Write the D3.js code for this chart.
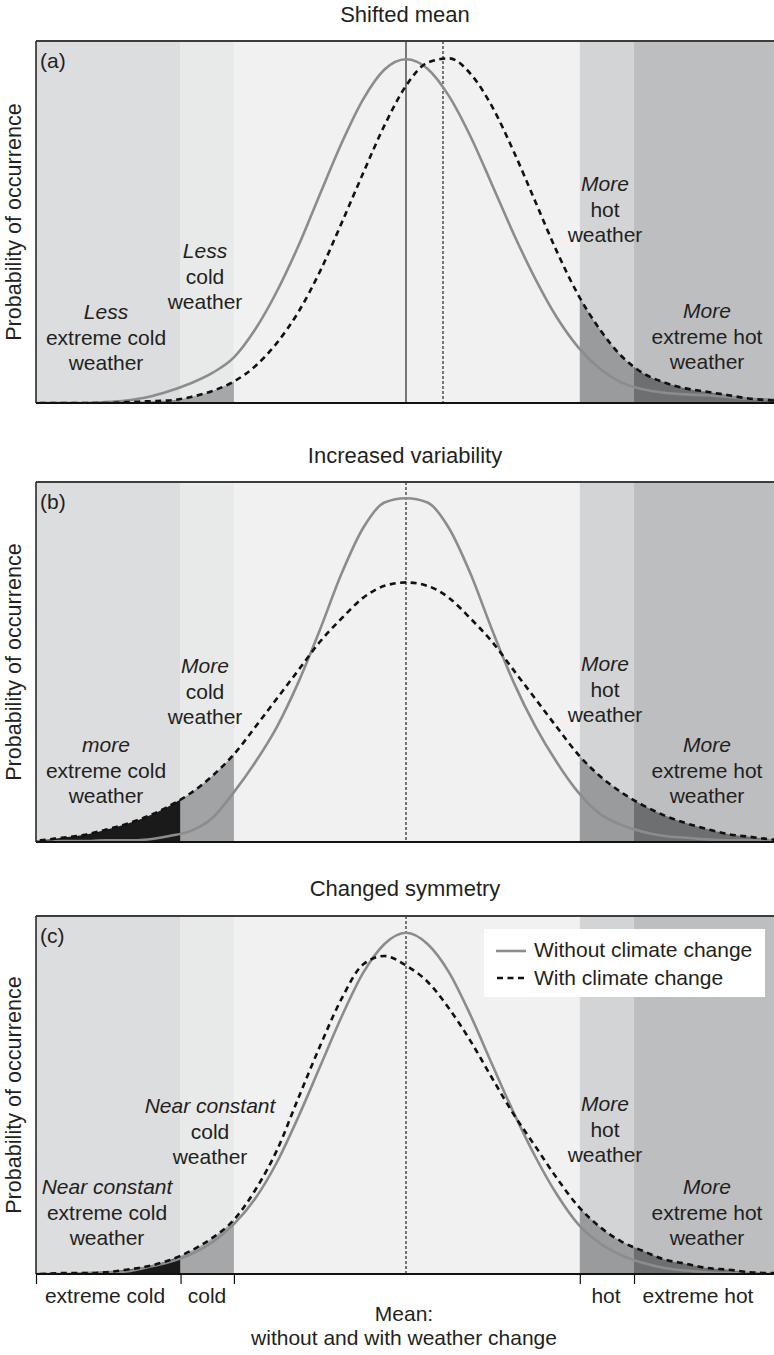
<!DOCTYPE html>
<html>
<head>
<meta charset="utf-8">
<script src="https://cdn.jsdelivr.net/npm/d3@7"></script>
<style>
  html, body { margin: 0; padding: 0; background: #fff; }
  svg { display: block; }
  text { font-family: "Liberation Sans", Arial, Helvetica, sans-serif; fill: #231f20; }
</style>
</head>
<body>
<svg id="chart" width="774" height="1355"></svg>
<script>
// Temperature axis, in standard deviations from the present-day mean
const xGrid = [-4.5,-4.25,-4,-3.75,-3.5,-3.25,-3,-2.75,-2.5,-2.25,-2,-1.75,-1.5,-1.25,-1,-0.75,-0.5,-0.25,0,
  0.25,0.5,0.75,1,1.25,1.5,1.75,2,2.25,2.5,2.75,3,3.25,3.5,3.75,4,4.25,4.5];

// Category thresholds (extreme cold | cold | normal | hot | extreme hot)
const bandEdges = [-4.3, -2.62, -2.0, 2.02, 2.65, 4.3];
const bandNames = ["extreme cold", "cold", "", "hot", "extreme hot"];

// (a) Shifted mean
const shiftedWithout = [0,0,0,0,0.001,0.003,0.007,0.014,0.023,0.035,0.053,0.086,0.130,0.183,0.243,0.302,0.353,0.388,0.400,
  0.389,0.357,0.310,0.254,0.197,0.145,0.100,0.065,0.040,0.024,0.016,0.012,0.010,0.009,0.007,0.005,0.004,0.003];
const shiftedWith = [0,0,0,0,0,0.001,0.002,0.003,0.007,0.014,0.025,0.043,0.070,0.106,0.153,0.209,0.267,0.323,0.369,
  0.396,0.401,0.383,0.345,0.293,0.235,0.177,0.126,0.086,0.055,0.035,0.024,0.017,0.013,0.009,0.005,0.003,0.001];

// (b) Increased variability
const variabilityWithout = [0,0,0.001,0.001,0.002,0.002,0.003,0.007,0.013,0.028,0.058,0.093,0.134,0.186,0.247,0.312,0.365,0.395,0.400,
  0.395,0.365,0.312,0.247,0.186,0.135,0.093,0.058,0.033,0.020,0.012,0.007,0.005,0.003,0.002,0.002,0.001,0.001];
const variabilityWith = [0.001,0.002,0.005,0.008,0.014,0.021,0.030,0.042,0.057,0.077,0.102,0.134,0.167,0.200,0.233,0.260,0.284,0.298,0.302,
  0.298,0.284,0.260,0.233,0.200,0.167,0.134,0.102,0.077,0.058,0.043,0.031,0.022,0.015,0.009,0.006,0.003,0.002];

// (c) Changed symmetry
const symmetryWithout = [0,0,0,0.001,0.002,0.003,0.008,0.014,0.023,0.037,0.058,0.088,0.130,0.183,0.241,0.299,0.350,0.384,0.397,
  0.384,0.351,0.301,0.244,0.188,0.137,0.093,0.058,0.036,0.022,0.013,0.007,0.004,0.002,0.001,0.001,0,0];
const symmetryWith = [0,0,0.001,0.001,0.002,0.005,0.009,0.016,0.027,0.042,0.063,0.098,0.144,0.205,0.265,0.320,0.360,0.370,0.359,
  0.340,0.309,0.271,0.228,0.186,0.149,0.112,0.079,0.055,0.038,0.027,0.017,0.012,0.007,0.005,0.002,0.001,0.001];

// Means marked by vertical lines: [without, with]
const shiftedMeans = [0, 0.43];
const centralMean = [0];

const panelTitles = ["Shifted mean", "Increased variability", "Changed symmetry"];
const panelTags = ["(a)", "(b)", "(c)"];
const yLabel = "Probability of occurrence";
const legendLabels = ["Without climate change", "With climate change"];

// Annotation text for each band: [lines], italic flag per line
const notesA = [
  [["Less", true], ["extreme cold", false], ["weather", false]],
  [["Less", true], ["cold", false], ["weather", false]],
  [["More", true], ["hot", false], ["weather", false]],
  [["More", true], ["extreme hot", false], ["weather", false]]
];
const notesB = [
  [["more", true], ["extreme cold", false], ["weather", false]],
  [["More", true], ["cold", false], ["weather", false]],
  [["More", true], ["hot", false], ["weather", false]],
  [["More", true], ["extreme hot", false], ["weather", false]]
];
const notesC = [
  [["Near constant", true], ["extreme cold", false], ["weather", false]],
  [["Near constant", true], ["cold", false], ["weather", false]],
  [["More", true], ["hot", false], ["weather", false]],
  [["More", true], ["extreme hot", false], ["weather", false]]
];
const axisTitle = ["Mean:", "without and with weather change"];

// ---------------------------------------------------------------- layout
const svg = d3.select("#chart");
const x = d3.scaleLinear().domain([-4.3, 4.3]).range([36, 776]);

const bandFill = ["#dcdddf", "#e8e9e9", "#f1f1f1", "#d3d4d6", "#bdbec0"];
const GREY_LINE = "#8b8c8e";
const FS = 21;

const panels = [
  { top: 41,  bottom: 403,  without: shiftedWithout,     withCC: shiftedWith,     tailFill: ["#8a8b8d", "#a6a7a9", null, "#9a9b9d", "#6e6f71"],
    notes: notesA, noteX: [106, 205, 605, 707], noteY: [319, 258, 191, 318], titleY: 22 },
  { top: 482, bottom: 842,  without: variabilityWithout, withCC: variabilityWith, tailFill: ["#1a1a1a", "#a2a3a5", null, "#9a9b9d", "#6e6f71"],
    notes: notesB, noteX: [106, 205, 605, 707], noteY: [752, 673, 671, 752], titleY: 463 },
  { top: 916, bottom: 1274, without: symmetryWithout,    withCC: symmetryWith,    tailFill: ["#1a1a1a", "#a6a7a9", null, "#9a9b9d", "#6e6f71"],
    notes: notesC, noteX: [107, 210, 605, 707], noteY: [1194, 1113, 1111, 1194], titleY: 896 }
];

const defs = svg.append("defs");

panels.forEach((p, i) => {
  const y = d3.scaleLinear().domain([0, 0.42]).range([p.bottom, p.bottom - 361]);
  const g = svg.append("g");

  // clip for the whole plotting frame
  const clipId = "frame" + i;
  defs.append("clipPath").attr("id", clipId)
    .append("rect").attr("x", x(-4.3)).attr("y", p.top)
    .attr("width", x(4.3) - x(-4.3)).attr("height", p.bottom - p.top);

  // category bands
  g.selectAll("rect.band").data(d3.range(5)).join("rect")
    .attr("class", "band")
    .attr("x", k => x(bandEdges[k]))
    .attr("y", p.top)
    .attr("width", k => x(bandEdges[k + 1]) - x(bandEdges[k]))
    .attr("height", p.bottom - p.top)
    .attr("fill", k => bandFill[k]);

  const ptsWith = xGrid.map((v, k) => [v, p.withCC[k]]);
  const ptsWithout = xGrid.map((v, k) => [v, p.without[k]]);

  const area = d3.area().x(d => x(d[0])).y0(y(0)).y1(d => y(d[1])).curve(d3.curveMonotoneX);
  const line = d3.line().x(d => x(d[0])).y(d => y(d[1])).curve(d3.curveMonotoneX);

  // shaded tail areas under the changed distribution
  [0, 1, 3, 4].forEach(k => {
    const cid = `tail${i}_${k}`;
    defs.append("clipPath").attr("id", cid)
      .append("rect").attr("x", x(bandEdges[k])).attr("y", p.top)
      .attr("width", x(bandEdges[k + 1]) - x(bandEdges[k])).attr("height", p.bottom - p.top);
    g.append("path").datum(ptsWith)
      .attr("d", area)
      .attr("fill", p.tailFill[k])
      .attr("clip-path", `url(#${cid})`);
  });

  // band annotations
  p.notes.forEach((lines, k) => {
    const t = g.append("text").attr("text-anchor", "middle").attr("font-size", FS);
    lines.forEach((ln, j) => {
      t.append("tspan")
        .attr("x", p.noteX[k])
        .attr("y", p.noteY[k] + j * 25.5)
        .attr("font-style", ln[1] ? "italic" : "normal")
        .text(ln[0]);
    });
  });

  // mean markers
  if (i === 0) {
    g.append("line").attr("x1", x(shiftedMeans[0])).attr("x2", x(shiftedMeans[0]))
      .attr("y1", p.top).attr("y2", p.bottom).attr("stroke", "#111").attr("stroke-width", 1.1);
    g.append("line").attr("x1", x(shiftedMeans[1])).attr("x2", x(shiftedMeans[1]))
      .attr("y1", p.top).attr("y2", p.bottom).attr("stroke", "#111").attr("stroke-width", 1.1)
      .attr("stroke-dasharray", "3,2");
  } else {
    g.append("line").attr("x1", x(centralMean[0])).attr("x2", x(centralMean[0]))
      .attr("y1", p.top).attr("y2", p.bottom).attr("stroke", "#111").attr("stroke-width", 1.1)
      .attr("stroke-dasharray", "3,2");
  }

  // distributions
  const curves = g.append("g").attr("clip-path", `url(#${clipId})`);
  curves.append("path").datum(ptsWithout)
    .attr("d", line).attr("fill", "none")
    .attr("stroke", GREY_LINE).attr("stroke-width", 2.6);
  curves.append("path").datum(ptsWith)
    .attr("d", line).attr("fill", "none")
    .attr("stroke", "#111").attr("stroke-width", 2.6)
    .attr("stroke-dasharray", "6,4.5");

  // frame
  g.append("line").attr("x1", x(-4.3)).attr("x2", x(4.3)).attr("y1", p.top).attr("y2", p.top)
    .attr("stroke", "#3d3d3d").attr("stroke-width", 2);
  g.append("line").attr("x1", x(-4.3)).attr("x2", x(-4.3)).attr("y1", p.top).attr("y2", p.bottom)
    .attr("stroke", "#2a2a2a").attr("stroke-width", 1.6);
  g.append("line").attr("x1", x(4.3)).attr("x2", x(4.3)).attr("y1", p.top).attr("y2", p.bottom)
    .attr("stroke", "#2a2a2a").attr("stroke-width", 1.6);
  g.append("line").attr("x1", x(-4.3)).attr("x2", x(4.3)).attr("y1", p.bottom).attr("y2", p.bottom)
    .attr("stroke", "#111").attr("stroke-width", 2);

  // panel tag, title, y label
  g.append("text").attr("x", 40).attr("y", p.top + 27).attr("font-size", FS).text(panelTags[i]);
  g.append("text").attr("x", 405).attr("y", p.titleY).attr("text-anchor", "middle")
    .attr("font-size", 22).text(panelTitles[i]);
  g.append("text")
    .attr("transform", `translate(21,${(p.top + p.bottom) / 2}) rotate(-90)`)
    .attr("text-anchor", "middle").attr("font-size", 21.6).text(yLabel);

  // bottom panel: category axis and legend
  if (i === 2) {
    const axis = d3.axisBottom(x).tickValues(bandEdges.slice(0, 5)).tickFormat("").tickSize(10).tickSizeOuter(0);
    const ax = g.append("g").attr("transform", `translate(0,${p.bottom})`).call(axis);
    ax.select(".domain").remove();
    ax.selectAll(".tick line").attr("stroke", "#111").attr("stroke-width", 1.2);

    const labelX = [105, 207, null, 606, 698];
    bandNames.forEach((nm, k) => {
      if (!nm) return;
      g.append("text").attr("x", labelX[k]).attr("y", 1303).attr("text-anchor", "middle")
        .attr("font-size", FS).text(nm);
    });
    axisTitle.forEach((t, j) => {
      g.append("text").attr("x", 404).attr("y", 1321 + j * 24).attr("text-anchor", "middle")
        .attr("font-size", FS).text(t);
    });

    const lg = g.append("g");
    lg.append("rect").attr("x", 484).attr("y", 929).attr("width", 281).attr("height", 68).attr("fill", "#fff");
    lg.append("line").attr("x1", 496).attr("x2", 526).attr("y1", 951).attr("y2", 951)
      .attr("stroke", GREY_LINE).attr("stroke-width", 2.6);
    lg.append("line").attr("x1", 497).attr("x2", 527).attr("y1", 978).attr("y2", 978)
      .attr("stroke", "#111").attr("stroke-width", 2.6).attr("stroke-dasharray", "6,4.5");
    legendLabels.forEach((t, j) => {
      lg.append("text").attr("x", 534).attr("y", 957 + j * 28).attr("font-size", FS).text(t);
    });
  }
});
</script>
</body>
</html>
